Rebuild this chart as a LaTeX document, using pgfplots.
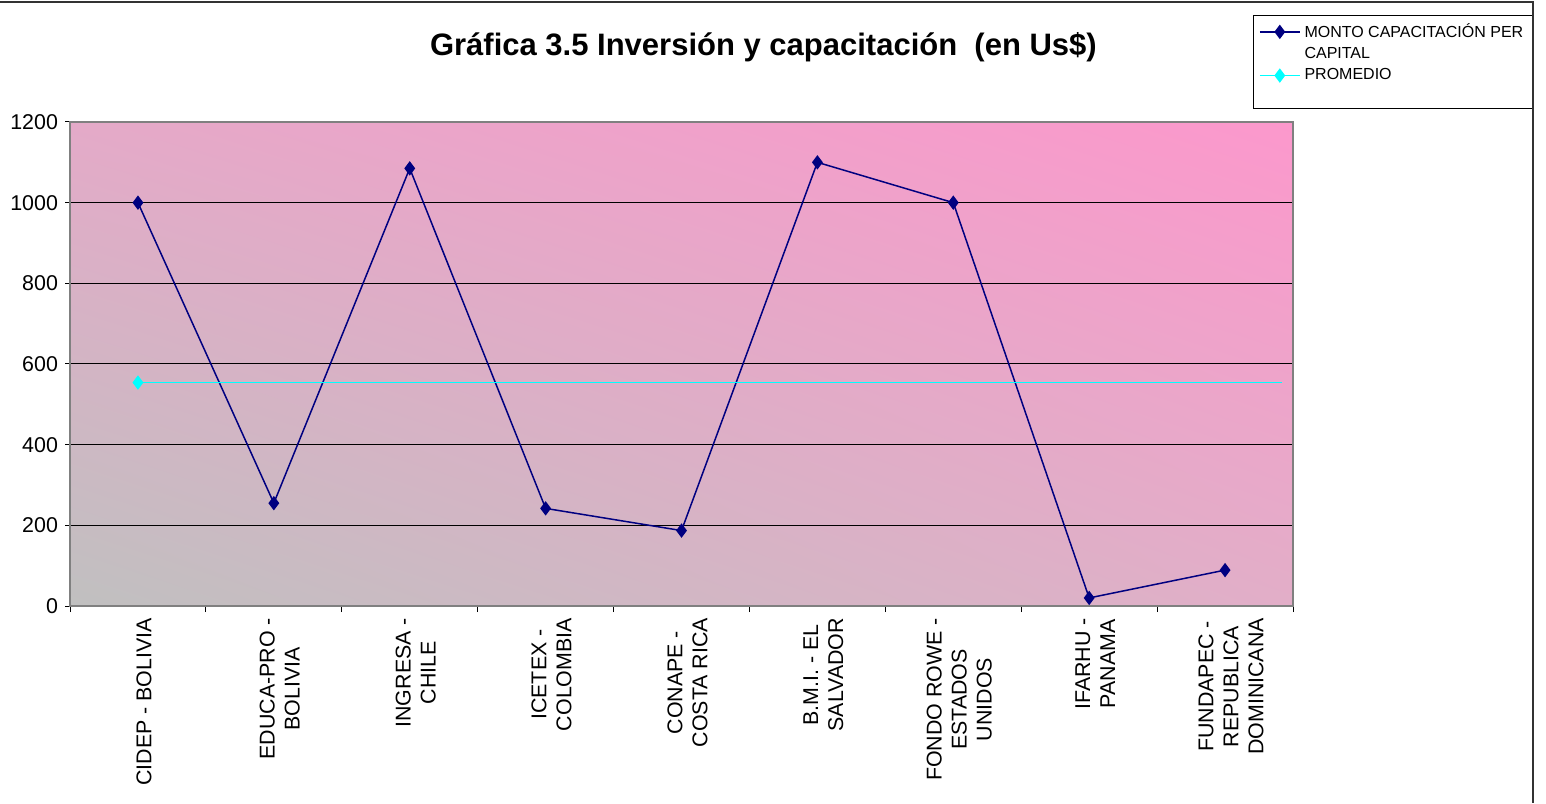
\documentclass[border=0pt]{standalone}
\usepackage{pgfplots}
\pgfplotsset{compat=1.18}
\usetikzlibrary{shadings}
\usepackage{fontspec}
\setmainfont{Liberation Sans}
\definecolor{navyline}{RGB}{0,0,128}
\definecolor{cyanline}{RGB}{0,255,255}
\definecolor{bgll}{RGB}{192,192,192}
\definecolor{bgul}{RGB}{228,170,200}
\definecolor{bglr}{RGB}{226,174,200}
\definecolor{bgur}{RGB}{252,152,204}
\definecolor{axgray}{RGB}{128,128,128}
\begin{document}
\begin{tikzpicture}
\useasboundingbox (0,0) rectangle (773pt,401.5pt);
\begin{axis}[
  at={(35pt,98.5pt)}, anchor=south west,
  scale only axis, width=611.5pt, height=242pt,
  xmin=-0.5, xmax=8.5, ymin=0, ymax=1200,
  axis background/.style={shade, lower left=bgll, upper left=bgul, lower right=bglr, upper right=bgur},
  axis line style={axgray, line width=0.8pt},
  xtick={0,...,8},
  xticklabels={{CIDEP - BOLIVIA},{EDUCA-PRO -\\BOLIVIA},{INGRESA -\\CHILE},{ICETEX -\\COLOMBIA},{CONAPE -\\COSTA RICA},{B.M.I. - EL\\SALVADOR},{FONDO ROWE -\\ESTADOS\\UNIDOS},{IFARHU -\\PANAMA},{FUNDAPEC -\\REPUBLICA\\DOMINICANA}},
  major x tick style={draw=none},
  minor xtick={-0.5,0.5,...,8.5},
  minor tick length=3pt,
  major tick length=2.5pt,
  tick align=outside,
  xtick pos=bottom, ytick pos=left,
  tick style={black, line width=0.5pt},
  xticklabel style={rotate=90, anchor=east, align=center, font=\fontsize{10.7}{12.5}\selectfont, yshift=-3pt},
  ytick={0,200,...,1200},
  ymajorgrids, grid style={black, line width=0.5pt},
  yticklabel style={font=\fontsize{10.7}{12}\selectfont},
  /pgf/number format/assume math mode=true,
  /pgf/number format/set thousands separator={},
  clip=false,
  legend cell align=left,
  legend style={at={(0.967,1.221)}, anchor=north west, draw=black, fill=white,
    font=\fontsize{8}{10}\selectfont, inner xsep=3pt, inner ysep=2pt, row sep=-0.5pt},
  legend image code/.code={\draw[mark repeat=2,mark phase=2,#1] plot coordinates {(0pt,0pt)(10pt,0pt)(20pt,0pt)};},
]
\addplot[navyline, line width=0.75pt, mark=diamond*, mark size=3pt, mark options={fill=navyline}]
  coordinates {(0,1000) (1,255) (2,1085) (3,242) (4,187) (5,1100) (6,1000) (7,20) (8,89)};
\addlegendentry{MONTO CAPACITACIÓN PER}
\addlegendimage{empty legend}
\addlegendentry{CAPITAL}
\addplot[cyanline, line width=0.75pt, forget plot] coordinates {(0,554) (8.42,554)};
\addplot[cyanline, line width=0.75pt, mark=diamond*, mark size=3pt, mark options={fill=cyanline}]
  coordinates {(0,554)};
\addlegendentry{PROMEDIO}
\addlegendimage{empty legend}
\addlegendentry{\rule{0pt}{4pt}}
\node[font=\fontsize{15.5}{18}\selectfont\bfseries, anchor=center] at (rel axis cs:0.567,1.155) {Gráfica 3.5 Inversión y capacitación\ \ (en Us\$)};
\end{axis}
\draw[black!80, line width=1pt] (0,400.5pt) -- (766.5pt,400.5pt) -- (766.5pt,0);
\end{tikzpicture}
\end{document}
